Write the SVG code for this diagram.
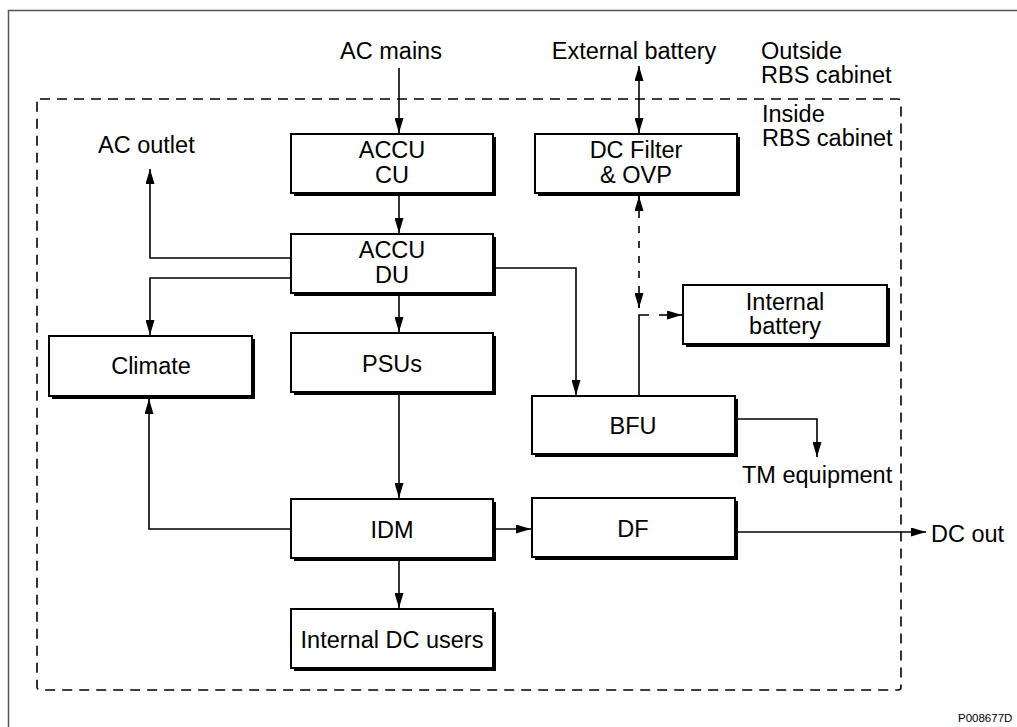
<svg xmlns="http://www.w3.org/2000/svg" width="1017" height="727" viewBox="0 0 1017 727">
<defs>
<style>
.box{fill:#fff;stroke:#000;stroke-width:2}
.sh{fill:#000}
.t{font-family:"Liberation Sans",Arial,sans-serif;font-size:23.5px;fill:#000}
.c{text-anchor:middle}
.ln{fill:none;stroke:#000;stroke-width:1.6}
.dl{fill:none;stroke:#000;stroke-width:1.6;stroke-dasharray:7 8}
</style>
<marker id="ah" markerUnits="userSpaceOnUse" markerWidth="16" markerHeight="9" refX="15" refY="4.5" orient="auto-start-reverse">
<path d="M0,0 L15,4.5 L0,9 z" fill="#000"/>
</marker>
</defs>
<rect width="1017" height="727" fill="#fff"/>
<path d="M8.5,727 V10.5 H1017" fill="none" stroke="#555" stroke-width="1.5"/>
<rect x="37" y="99" width="864" height="591" rx="3" fill="none" stroke="#000" stroke-width="1.6" stroke-dasharray="10 7"/>

<g id="connectors">
<path class="ln" d="M399,68 V133" marker-end="url(#ah)"/>
<path class="ln" d="M399,194 V233" marker-end="url(#ah)"/>
<path class="ln" d="M291,258 H150 V169" marker-end="url(#ah)"/>
<path class="ln" d="M291,278 H150 V335" marker-end="url(#ah)"/>
<path class="ln" d="M399,294 V332" marker-end="url(#ah)"/>
<path class="ln" d="M496,268 H576 V395" marker-end="url(#ah)"/>
<path class="ln" d="M399,395 V498" marker-end="url(#ah)"/>
<path class="ln" d="M291,529 H149 V399" marker-end="url(#ah)"/>
<path class="ln" d="M496,529 H531" marker-end="url(#ah)"/>
<path class="ln" d="M399,561 V608" marker-end="url(#ah)"/>
<path class="ln" d="M639,66 V133" marker-start="url(#ah)" marker-end="url(#ah)"/>
<path class="dl" d="M639,196 V308"/>
<path class="ln" d="M639,196 V211" marker-start="url(#ah)"/>
<path class="ln" d="M639,294 V308" marker-end="url(#ah)"/>
<path class="ln" d="M639,396 V315 H649"/>
<path class="ln" d="M659,315 H682" marker-end="url(#ah)"/>
<path class="ln" d="M738,419 H817 V457" marker-end="url(#ah)"/>
<path class="ln" d="M738,532 H926" marker-end="url(#ah)"/>
</g>

<g id="accu-cu"><rect class="sh" x="294" y="137" width="202" height="59"/><rect class="box" x="291" y="134" width="202" height="59"/><text class="t c" x="392" y="158">ACCU</text><text class="t c" x="392" y="183">CU</text></g>
<g id="accu-du"><rect class="sh" x="294" y="237" width="202" height="59"/><rect class="box" x="291" y="234" width="202" height="59"/><text class="t c" x="392" y="258">ACCU</text><text class="t c" x="392" y="283">DU</text></g>
<g id="climate"><rect class="sh" x="52" y="339" width="203" height="60"/><rect class="box" x="49" y="336" width="203" height="60"/><text class="t c" x="151" y="374">Climate</text></g>
<g id="psus"><rect class="sh" x="294" y="336" width="202" height="59"/><rect class="box" x="291" y="333" width="202" height="59"/><text class="t c" x="392" y="372">PSUs</text></g>
<g id="idm"><rect class="sh" x="294" y="502" width="202" height="59"/><rect class="box" x="291" y="499" width="202" height="59"/><text class="t c" x="392" y="538">IDM</text></g>
<g id="internal-dc-users"><rect class="sh" x="294" y="612" width="202" height="59"/><rect class="box" x="291" y="609" width="202" height="59"/><text class="t c" x="392" y="648">Internal DC users</text></g>
<g id="dc-filter"><rect class="sh" x="538" y="137" width="202" height="59"/><rect class="box" x="535" y="134" width="202" height="59"/><text class="t c" x="636" y="158">DC Filter</text><text class="t c" x="636" y="183">&amp; OVP</text></g>
<g id="internal-battery"><rect class="sh" x="686" y="288" width="204" height="59"/><rect class="box" x="683" y="285" width="204" height="59"/><text class="t c" x="785" y="310">Internal</text><text class="t c" x="785" y="334">battery</text></g>
<g id="bfu"><rect class="sh" x="535" y="399" width="203" height="58"/><rect class="box" x="532" y="396" width="203" height="58"/><text class="t c" x="633" y="434">BFU</text></g>
<g id="df"><rect class="sh" x="535" y="501" width="203" height="59"/><rect class="box" x="532" y="498" width="203" height="59"/><text class="t c" x="633" y="537">DF</text></g>

<g id="labels">
<text class="t c" x="391" y="59">AC mains</text>
<text class="t c" x="634" y="59">External battery</text>
<text class="t" x="761" y="59">Outside</text>
<text class="t" x="761" y="83">RBS cabinet</text>
<text class="t" x="762" y="122">Inside</text>
<text class="t" x="762" y="146">RBS cabinet</text>
<text class="t" x="98" y="153">AC outlet</text>
<text class="t" x="742" y="483">TM equipment</text>
<text class="t" x="931" y="542">DC out</text>
<text x="958" y="722" style="font-family:'Liberation Sans',Arial,sans-serif;font-size:11.5px;fill:#000">P008677D</text>
</g>
</svg>
